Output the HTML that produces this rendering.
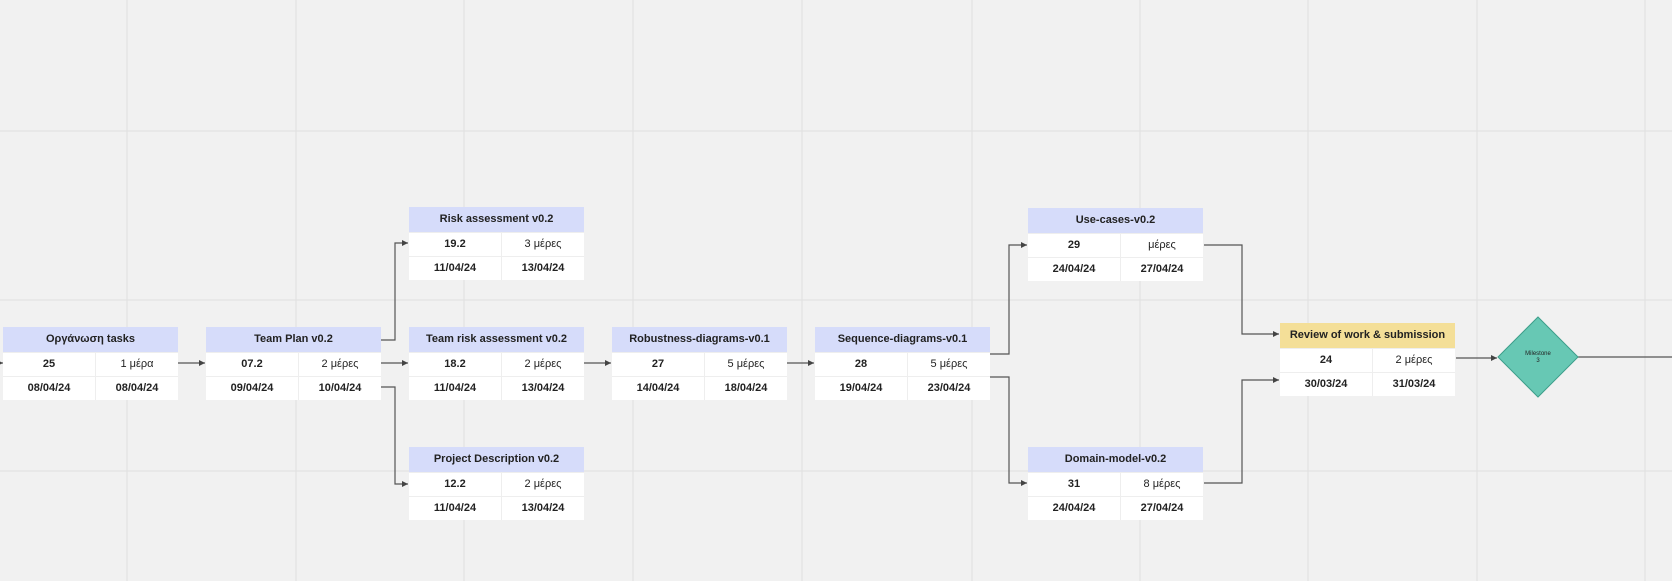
<!DOCTYPE html>
<html><head><meta charset="utf-8"><style>
html,body{margin:0;padding:0;}
body{width:1672px;height:581px;position:relative;overflow:hidden;background:#f1f1f1;font-family:"Liberation Sans","DejaVu Sans",sans-serif;color:#222;}
.n{position:absolute;width:175px;font-size:11px;}
.h{height:25px;line-height:25px;text-align:center;background:#d6dcfa;font-weight:bold;}
.y .h{background:#f4df98;}
.r{display:flex;height:23px;line-height:23px;background:#fff;border-top:1px solid #eee;}
.r div{flex:0 0 92px;text-align:center;border-right:1px solid #eee;font-weight:bold;}
.r div+div{flex:1;border-right:none;font-weight:normal;}
.r2 div+div{font-weight:bold;}
svg{position:absolute;left:0;top:0;}
</style></head><body>
<svg width="1672" height="581">
<g stroke="#e0e0e0" stroke-width="1">
<line x1="127" y1="0" x2="127" y2="581"/><line x1="296" y1="0" x2="296" y2="581"/><line x1="464" y1="0" x2="464" y2="581"/><line x1="633" y1="0" x2="633" y2="581"/><line x1="802" y1="0" x2="802" y2="581"/><line x1="972" y1="0" x2="972" y2="581"/><line x1="1140" y1="0" x2="1140" y2="581"/><line x1="1308" y1="0" x2="1308" y2="581"/><line x1="1477" y1="0" x2="1477" y2="581"/><line x1="1645" y1="0" x2="1645" y2="581"/>
<line x1="0" y1="131" x2="1672" y2="131"/><line x1="0" y1="300" x2="1672" y2="300"/><line x1="0" y1="471" x2="1672" y2="471"/>
</g>
<defs><marker id="a" markerWidth="6" markerHeight="6" refX="5" refY="3" orient="auto"><path d="M0,0.5 L5,3 L0,5.5z" fill="#444"/></marker></defs>
<g stroke="#555" stroke-width="1.2" fill="none" marker-end="url(#a)">
<path d="M0,363 H3"/>
<path d="M178,363 H205"/>
<path d="M381,340 H395 V243 H408"/>
<path d="M381,363 H408"/>
<path d="M381,387 H395 V484 H408"/>
<path d="M584,363 H611"/>
<path d="M787,363 H814"/>
<path d="M990,354 H1009 V245 H1027"/>
<path d="M990,377 H1009 V483 H1027"/>
<path d="M1204,245 H1242 V334 H1279"/>
<path d="M1204,483 H1242 V380 H1279"/>
<path d="M1456,358 H1497"/>
</g>
<line x1="1578" y1="357" x2="1672" y2="357" stroke="#555" stroke-width="1.2"/>
<path d="M1538,317 L1578,357 L1538,397 L1498,357z" fill="#67c8b4" stroke="#3d9e8a" stroke-width="1"/>
<text x="1538" y="355" font-size="6" text-anchor="middle" fill="#222" font-family="Liberation Sans,sans-serif">Milestone</text>
<text x="1538" y="362" font-size="6" text-anchor="middle" fill="#222" font-family="Liberation Sans,sans-serif">3</text>
</svg>

<div class="n" style="left:3px;top:327px"><div class="h">Οργάνωση tasks</div><div class="r"><div>25</div><div>1 μέρα</div></div><div class="r r2"><div>08/04/24</div><div>08/04/24</div></div></div>
<div class="n" style="left:206px;top:327px"><div class="h">Team Plan v0.2</div><div class="r"><div>07.2</div><div>2 μέρες</div></div><div class="r r2"><div>09/04/24</div><div>10/04/24</div></div></div>
<div class="n" style="left:409px;top:207px"><div class="h">Risk assessment v0.2</div><div class="r"><div>19.2</div><div>3 μέρες</div></div><div class="r r2"><div>11/04/24</div><div>13/04/24</div></div></div>
<div class="n" style="left:409px;top:327px"><div class="h">Team risk assessment v0.2</div><div class="r"><div>18.2</div><div>2 μέρες</div></div><div class="r r2"><div>11/04/24</div><div>13/04/24</div></div></div>
<div class="n" style="left:409px;top:447px"><div class="h">Project Description v0.2</div><div class="r"><div>12.2</div><div>2 μέρες</div></div><div class="r r2"><div>11/04/24</div><div>13/04/24</div></div></div>
<div class="n" style="left:612px;top:327px"><div class="h">Robustness-diagrams-v0.1</div><div class="r"><div>27</div><div>5 μέρες</div></div><div class="r r2"><div>14/04/24</div><div>18/04/24</div></div></div>
<div class="n" style="left:815px;top:327px"><div class="h">Sequence-diagrams-v0.1</div><div class="r"><div>28</div><div>5 μέρες</div></div><div class="r r2"><div>19/04/24</div><div>23/04/24</div></div></div>
<div class="n" style="left:1028px;top:208px"><div class="h">Use-cases-v0.2</div><div class="r"><div>29</div><div>μέρες</div></div><div class="r r2"><div>24/04/24</div><div>27/04/24</div></div></div>
<div class="n" style="left:1028px;top:447px"><div class="h">Domain-model-v0.2</div><div class="r"><div>31</div><div>8 μέρες</div></div><div class="r r2"><div>24/04/24</div><div>27/04/24</div></div></div>
<div class="n y" style="left:1280px;top:323px"><div class="h">Review of work &amp; submission</div><div class="r"><div>24</div><div>2 μέρες</div></div><div class="r r2"><div>30/03/24</div><div>31/03/24</div></div></div>
</body></html>
